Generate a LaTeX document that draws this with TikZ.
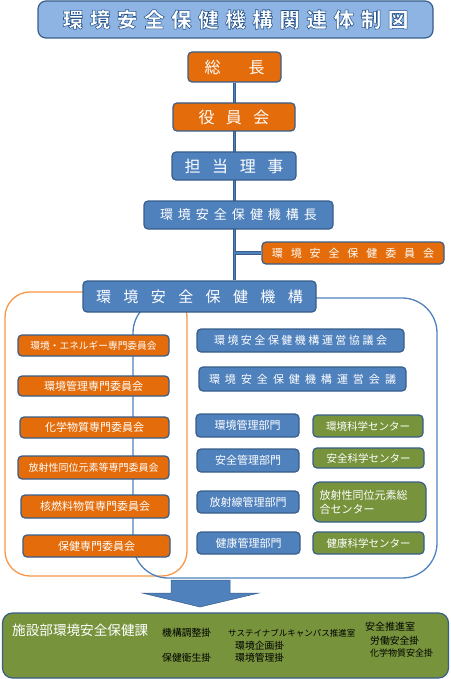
\documentclass[tikz,border=0pt]{standalone}
\usepackage{fontspec}
\setmainfont{Noto Sans CJK JP}
\newfontfamily\titlefont{Noto Sans CJK JP}
\usetikzlibrary{backgrounds}
\definecolor{bfill}{HTML}{4F81BD}
\definecolor{bdraw}{HTML}{385D8A}
\definecolor{ofill}{HTML}{E46C0A}
\definecolor{gfill}{HTML}{77933C}
\definecolor{tfill}{HTML}{8DB4E2}
\definecolor{oline}{HTML}{F79646}
\definecolor{tdark}{HTML}{1F497D}
\makeatletter
\protected\def\lsp#1#2{\def\lsp@gap{#1}\lsp@first#2\relax}
\def\lsp@first#1{#1\lsp@next}
\def\lsp@next#1{\ifx#1\relax\else\hspace{\lsp@gap}#1\expandafter\lsp@next\fi}
\makeatother
\newcommand\outlinetext[1]{\special{pdf:literal direct 2 Tr 0.55 w 0.15 0.33 0.55 RG}#1\special{pdf:literal direct 0 Tr}}
\tikzset{
  sz/.style 2 args={minimum width=#1pt, minimum height=#2pt},
  fs/.style={font=\fontsize{#1}{#1}\selectfont},
  box/.style={draw=bdraw, line width=1.2pt, rounded corners=4pt, text=white, inner sep=0pt, align=center},
  obox/.style={box, fill=ofill},
  bbox/.style={box, fill=bfill},
  gbox/.style={box, fill=gfill},
  conn/.style={draw=bdraw, line width=0.8pt, double=bfill, double distance=1.6pt},
  lbl/.style={anchor=west, inner sep=0pt, text=black},
}
\begin{document}
\begin{tikzpicture}[x=1pt, y=-1pt]
\useasboundingbox (0,0) rectangle (450,679);
% title
\node[draw=bdraw, fill=tfill, line width=1.2pt, rounded corners=8pt, sz={395}{37}, inner sep=0pt, text=white] (title) at (235.5,19.5)
  {\titlefont\bfseries\fontsize{20.5}{20}\selectfont\outlinetext{\lsp{6.6pt}{環境安全保健機構関連体制図}}};
% group frames
\draw[oline, line width=1.3pt, rounded corners=25pt] (5,292) rectangle (187,576);
\draw[bfill, line width=1.3pt, rounded corners=35pt] (133,298) rectangle (437,578);
% chain
\node[obox, sz={93}{30}, fs=16] (zong) at (234.5,67) {\lsp{28pt}{総長}};
\node[obox, sz={122}{28}, fs=16] (yakuin) at (234,117) {\lsp{11.5pt}{役員会}};
\node[bbox, sz={124}{28}, fs=16] (tanto) at (234,166) {\lsp{11.6pt}{担当理事}};
\node[bbox, sz={189}{28}, fs=13] (kikocho) at (238.5,215) {\lsp{5pt}{環境安全保健機構長}};
\node[obox, sz={182}{22}, fs=11] (iinkai) at (353,253) {\lsp{7.9pt}{環境安全保健委員会}};
\node[bbox, sz={233}{31}, fs=15] (kiko) at (199.5,296.5) {\lsp{12.4pt}{環境安全保健機構}};
\begin{scope}[on background layer]
\draw[conn] (zong.south) -- (zong.south |- kiko.north);
\draw[conn] (zong.south |- iinkai.west) -- (iinkai.west);
\end{scope}
% committees
\node[obox, sz={151}{21}, fs=9.7] (L1) at (93.5,345.5) {環境・エネルギー専門委員会};
\node[obox, sz={151}{20}, fs=11] (L2) at (93.5,386) {環境管理専門委員会};
\node[obox, sz={149}{21}, fs=11] (L3) at (94.5,427.5) {化学物質専門委員会};
\node[obox, sz={151}{23}, fs=10] (L4) at (93.5,467.5) {放射性同位元素等専門委員会};
\node[obox, sz={148}{23}, fs=11] (L5) at (95,506.5) {核燃料物質専門委員会};
\node[obox, sz={147}{22}, fs=11] (L6) at (96.5,546) {保健専門委員会};
% right block
\node[bbox, sz={207}{23}, fs=11] (R1) at (300.5,340.5) {\lsp{2.5pt}{環境安全保健機構運営協議会}};
\node[bbox, sz={207}{24}, fs=11] (R2) at (302.5,379) {\lsp{5pt}{環境安全保健機構運営会議}};
\node[bbox, sz={103}{23}, fs=11] (D1) at (247.5,425.5) {環境管理部門};
\node[gbox, sz={110}{22}, fs=10.5] (C1) at (368,426) {環境科学センター};
\node[bbox, sz={102}{23}, fs=11] (D2) at (248,460.5) {安全管理部門};
\node[gbox, sz={111}{20}, fs=10.5] (C2) at (368.5,458) {安全科学センター};
\node[bbox, sz={102}{22}, fs=11] (D3) at (248,502) {放射線管理部門};
\node[gbox, sz={113}{40}, rounded corners=7pt, text width=100pt, align=left, font=\fontsize{11}{14}\selectfont] (C3) at (369.5,502) {放射性同位元素総\\合センター};
\node[bbox, sz={103}{22}, fs=11] (D4) at (248.5,543) {健康管理部門};
\node[gbox, sz={111}{22}, fs=10.5] (C4) at (368.5,543) {健康科学センター};
% big arrow
\draw[fill=bfill, draw=bdraw, line width=0.5pt] (171,580) -- (230,580) -- (230,593) -- (259,593) -- (200,607) -- (142,593) -- (171,593) -- cycle;
% bottom section
\node[draw=bdraw, fill=gfill, line width=1.2pt, rounded corners=10pt, sz={446}{65}, inner sep=0pt] (ka) at (225.5,645.5) {};
\node[lbl, text=white, fs=13.6] (kaname) at (12,630) {施設部環境安全保健課};
\node[lbl, fs=9.8] (k1) at (162,633) {機構調整掛};
\node[lbl, fs=9.8] (k2) at (162,658) {保健衛生掛};
\node[lbl, fs=8.5] (k3) at (228,633) {サステイナブルキャンパス推進室};
\node[lbl, fs=9.8] (k4) at (235,646) {環境企画掛};
\node[lbl, fs=9.8] (k5) at (235,658) {環境管理掛};
\node[lbl, fs=10] (k6) at (365,627) {安全推進室};
\node[lbl, fs=9.8] (k7) at (370,641) {労働安全掛};
\node[lbl, fs=9] (k8) at (370,653) {化学物質安全掛};
\end{tikzpicture}
\end{document}
